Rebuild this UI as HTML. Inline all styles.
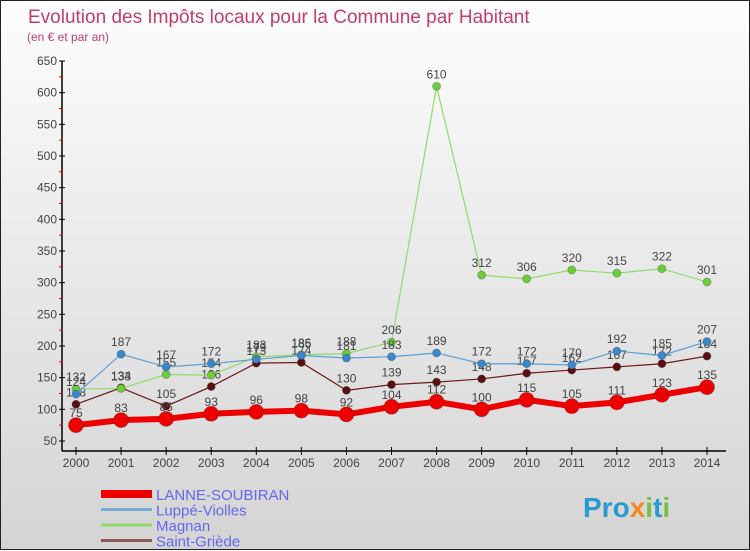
<!DOCTYPE html>
<html><head><meta charset="utf-8"><style>
body{margin:0;width:750px;height:550px;overflow:hidden;font-family:"Liberation Sans",sans-serif}
#wrap{position:relative;width:748px;height:548px;border:1px solid #222;background:linear-gradient(#fdfdfd,#d4d4d4)}
svg{position:absolute;left:0;top:0}
</style></head><body>
<div id="wrap">
<svg id="c" width="750" height="550">
<text x="27" y="22" font-size="19" fill="#c0406a">Evolution des Impôts locaux pour la Commune par Habitant</text>
<text x="26" y="40" font-size="12" fill="#c0406a">(en € et par an)</text>
</svg>
</div>
<script>
const years=[2000,2001,2002,2003,2004,2005,2006,2007,2008,2009,2010,2011,2012,2013,2014];
const yTicks=[50,100,150,200,250,300,350,400,450,500,550,600,650];
const lanne=[75,83,85,93,96,98,92,104,112,100,115,105,111,123,135];
const luppe=[124,187,167,172,179,185,181,183,189,172,172,170,192,185,207];
const magnan=[132,133,155,154,183,186,188,206,610,312,306,320,315,322,301];
const saint=[108,134,105,136,173,174,130,139,143,148,157,162,167,172,184];
const names=["LANNE-SOUBIRAN","Luppé-Violles","Magnan","Saint-Griède"];
const svg=document.getElementById('c');const NS='http://www.w3.org/2000/svg';
function X(i){return 75+i*(706-75)/(years.length-1);}
function Y(v){return 440-(v-50)*380/600;}
function el(t,a,p){const e=document.createElementNS(NS,t);for(const k in a)e.setAttribute(k,a[k]);(p||svg).appendChild(e);return e;}
const ax=el('line',{x1:61,y1:60,x2:61,y2:450,stroke:'#000','stroke-width':1.5});


const bx=el('line',{x1:61,y1:450,x2:725,y2:450,stroke:'#000','stroke-width':1.5});


yTicks.forEach(v=>{
 el('line',{x1:58,x2:64,y1:Y(v),y2:Y(v),stroke:'#000'});
 if(v<650){el('line',{x1:58,x2:62,y1:Y(v+25),y2:Y(v+25),stroke:'#e00'});}
 const t=el('text',{x:56,y:Y(v)+4,'text-anchor':'end','font-size':12,fill:'#444'});t.textContent=v;
 
 
});
years.forEach((y,i)=>{
 el('line',{x1:X(i),x2:X(i),y1:446,y2:454,stroke:'#000'});
 const t=el('text',{x:X(i),y:466,'text-anchor':'middle','font-size':12,fill:'#444'});t.textContent=y;
 
 
});
const series=[[saint,'#6b1a1a','#5a0f0f',1.2,4,'saint-griede'],[magnan,'#8fdc6a','#6ccf3a',1.2,4,'magnan'],[luppe,'#5aa0d8','#3a88cc',1.2,4,'luppe-violles'],[lanne,'#ee0000','#ee0000',6,7.5,'lanne-soubiran']];
series.forEach(([d,c,mc,w,r,n])=>{
 const g=el('g',{});
 
 
 el('polyline',{points:d.map((v,i)=>X(i)+','+Y(v)).join(' '),fill:'none',stroke:c,'stroke-width':w},g);
 d.forEach((v,i)=>{
  const p=el('circle',{cx:X(i),cy:Y(v),r:r,fill:mc,stroke:'#333','stroke-opacity':0.3},g);
  
  
  const t=el('text',{x:X(i),y:Y(v)-8,'text-anchor':'middle','font-size':12,fill:'#444'},g);t.textContent=v;
  
  
 });
});
const lc=['#ee0000','#7aaed0','#8fdc6a','#8a5a5a'],lw=[8,3,3,3];
names.forEach((nm,i)=>{
 const y=493+i*15.5;
 const g=el('g',{});
 
 
 el('line',{x1:100,x2:151,y1:y,y2:y,stroke:lc[i],'stroke-width':lw[i]},g);
 const t=el('text',{x:155,y:y+6,'font-size':15,fill:'#6666ee'},g);t.textContent=nm;
});
const lg=el('text',{x:582,y:516,'font-size':28,'font-weight':'bold',fill:'#2a9ad0'});


lg.innerHTML='Pro<tspan fill="#f08a20">x</tspan><tspan fill="#7ac040">i</tspan>t<tspan fill="#7ac040">i</tspan>';
</script>
</body></html>
